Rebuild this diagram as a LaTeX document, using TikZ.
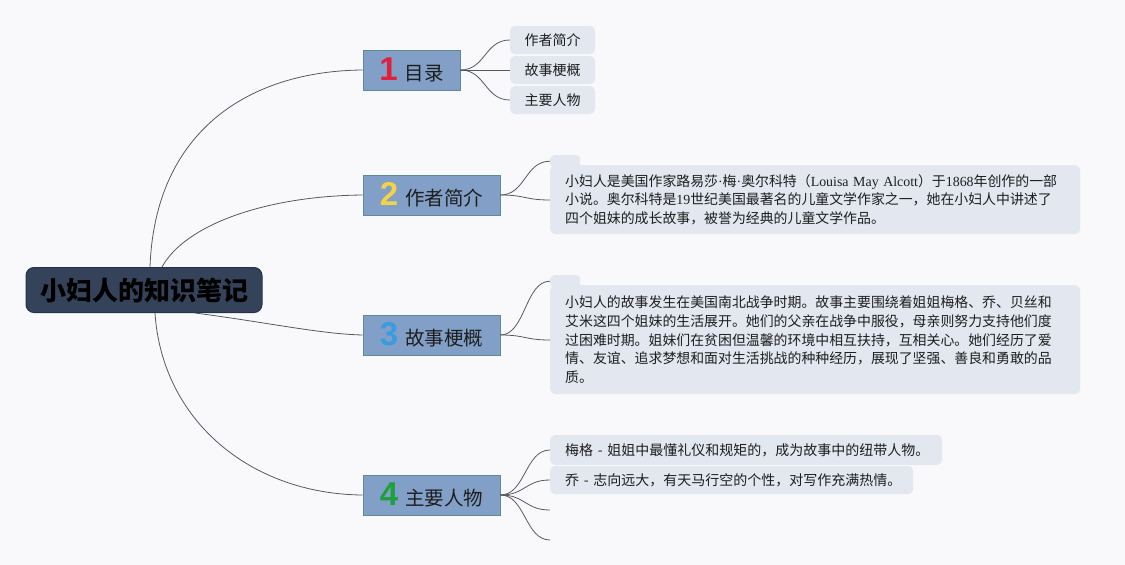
\documentclass[tikz,border=0pt]{standalone}
\usepackage{fontspec}
\setmainfont{Liberation Serif}
\newfontfamily\cjk{Noto Sans CJK SC}
\newfontfamily\numf{Liberation Sans}
\usetikzlibrary{calc}
\definecolor{bg}{HTML}{F9F9FB}
\definecolor{rootfill}{HTML}{34435A}
\definecolor{rootdraw}{HTML}{26324A}
\definecolor{brfill}{HTML}{819FC7}
\definecolor{brdraw}{HTML}{5C8A98}
\definecolor{leaffill}{HTML}{E2E7F0}
\definecolor{linec}{HTML}{555A62}
\definecolor{txt}{HTML}{1E1E1E}
\definecolor{nred}{HTML}{E0203C}
\definecolor{nyel}{HTML}{F2D24A}
\definecolor{nblu}{HTML}{3A9BE0}
\definecolor{ngrn}{HTML}{1FA03C}
\tikzset{
  rootbox/.style={draw=rootdraw, fill=rootfill, rounded corners=8pt, line width=1pt,
    minimum width=236pt, minimum height=45pt, inner sep=0pt,
    font=\cjk\bfseries\fontsize{26}{30}\selectfont, text=black},
  brbox/.style={draw=brdraw, fill=brfill, line width=0.8pt, minimum height=40pt, inner sep=0pt,
    font=\cjk\fontsize{19.5}{22}\selectfont, text=txt},
  leafbox/.style={fill=leaffill, rounded corners=5pt, inner sep=0pt, minimum height=28pt,
    font=\cjk\fontsize{14}{17}\selectfont, text=txt},
  textbox/.style={fill=leaffill, rounded corners=5pt, inner xsep=15pt, inner ysep=0pt,
    text width=500pt, align=left, font=\cjk\fontsize{13.9}{18.7}\selectfont, text=txt, anchor=north west},
  tabbox/.style={fill=leaffill, rounded corners=4pt, minimum width=30pt, minimum height=12pt, inner sep=0pt, anchor=north west},
  conn/.style={draw=linec, line width=0.8pt},
}
\newcommand{\bnum}[2]{{\numf\bfseries\fontsize{33}{33}\selectfont\color{#1}#2}\hspace{7pt}}
\newcommand{\oneline}[1]{\mbox{#1}}
\newcommand{\mdot}{{\rmfamily\textperiodcentered}}
\begin{document}
\begin{tikzpicture}[x=1pt,y=-1pt]
\fill[bg] (0,0) rectangle (1125,565);
\useasboundingbox (0,0) rectangle (1125,565);

\node[rootbox] (root) at (144,290) {小妇人的知识笔记};

\node[brbox, minimum width=97pt] (b1) at (411.5,70) {\bnum{nred}{1}目录};
\node[brbox, minimum width=137pt] (b2) at (431.5,195) {\bnum{nyel}{2}作者简介};
\node[brbox, minimum width=137pt] (b3) at (431.5,335) {\bnum{nblu}{3}故事梗概};
\node[brbox, minimum width=137pt] (b4) at (431.5,495) {\bnum{ngrn}{4}主要人物};

\node[leafbox, minimum width=85pt] (l11) at (552.5,40) {作者简介};
\node[leafbox, minimum width=85pt] (l12) at (552.5,70) {故事梗概};
\node[leafbox, minimum width=85pt] (l13) at (552.5,100) {主要人物};

\node[tabbox] (t2) at (550,155) {};
\node[textbox, minimum height=69pt] (x2) at (550,165) {\oneline{小妇人是美国作家路易莎\mdot 梅\mdot 奥尔科特（{\rmfamily Louisa May Alcott}）于{\rmfamily 1868}年创作的一部}\\
\oneline{小说。奥尔科特是{\rmfamily 19}世纪美国最著名的儿童文学作家之一，她在小妇人中讲述了}\\
\oneline{四个姐妹的成长故事，被誉为经典的儿童文学作品。}};

\node[tabbox] (t3) at (550,275) {};
\node[textbox, minimum height=109pt] (x3) at (550,285) {\oneline{小妇人的故事发生在美国南北战争时期。故事主要围绕着姐姐梅格、乔、贝丝和}\\
\oneline{艾米这四个姐妹的生活展开。她们的父亲在战争中服役，母亲则努力支持他们度}\\
\oneline{过困难时期。姐妹们在贫困但温馨的环境中相互扶持，互相关心。她们经历了爱}\\
\oneline{情、友谊、追求梦想和面对生活挑战的种种经历，展现了坚强、善良和勇敢的品}\\
\oneline{质。}};

\node[leafbox, minimum width=392pt, minimum height=30pt, anchor=west, align=left, text width=362pt, inner xsep=15pt] (l41) at (550,450) {梅格 - 姐姐中最懂礼仪和规矩的，成为故事中的纽带人物。};
\node[leafbox, minimum width=363pt, minimum height=28pt, anchor=west, align=left, text width=333pt, inner xsep=15pt] (l42) at (550,480) {乔 - 志向远大，有天马行空的个性，对写作充满热情。};
\coordinate (l43) at (550,510);
\coordinate (l44) at (550,540);

\draw[conn] ($(root.north)+(6,0)$) .. controls (155,130) and (250,71) .. (b1.west);
\draw[conn] ($(root.north)+(18,0)$) .. controls (185,225) and (265,196) .. (b2.west);
\draw[conn] ($(root.south)+(51,0)$) .. controls (265,322) and (320,334) .. (b3.west);
\draw[conn] ($(root.south)+(11,0)$) .. controls (162,420) and (250,494) .. (b4.west);

\foreach \t in {l11,l12,l13}
  \draw[conn] (b1.east) .. controls +(25,0) and +(-25,0) .. (\t.west);
\draw[conn] (b2.east) .. controls +(25,0) and +(-25,0) .. (t2.west);
\draw[conn] (b2.east) .. controls +(25,0) and +(-25,0) .. ($(x2.north west)+(0,35)$);
\draw[conn] (b3.east) .. controls +(25,0) and +(-25,0) .. (t3.west);
\draw[conn] (b3.east) .. controls +(25,0) and +(-25,0) .. ($(x3.north west)+(0,55)$);
\foreach \t in {l41,l42}
  \draw[conn] (b4.east) .. controls +(25,0) and +(-25,0) .. (\t.west);
\foreach \t in {l43,l44}
  \draw[conn] (b4.east) .. controls +(25,0) and +(-25,0) .. (\t);
\end{tikzpicture}
\end{document}
